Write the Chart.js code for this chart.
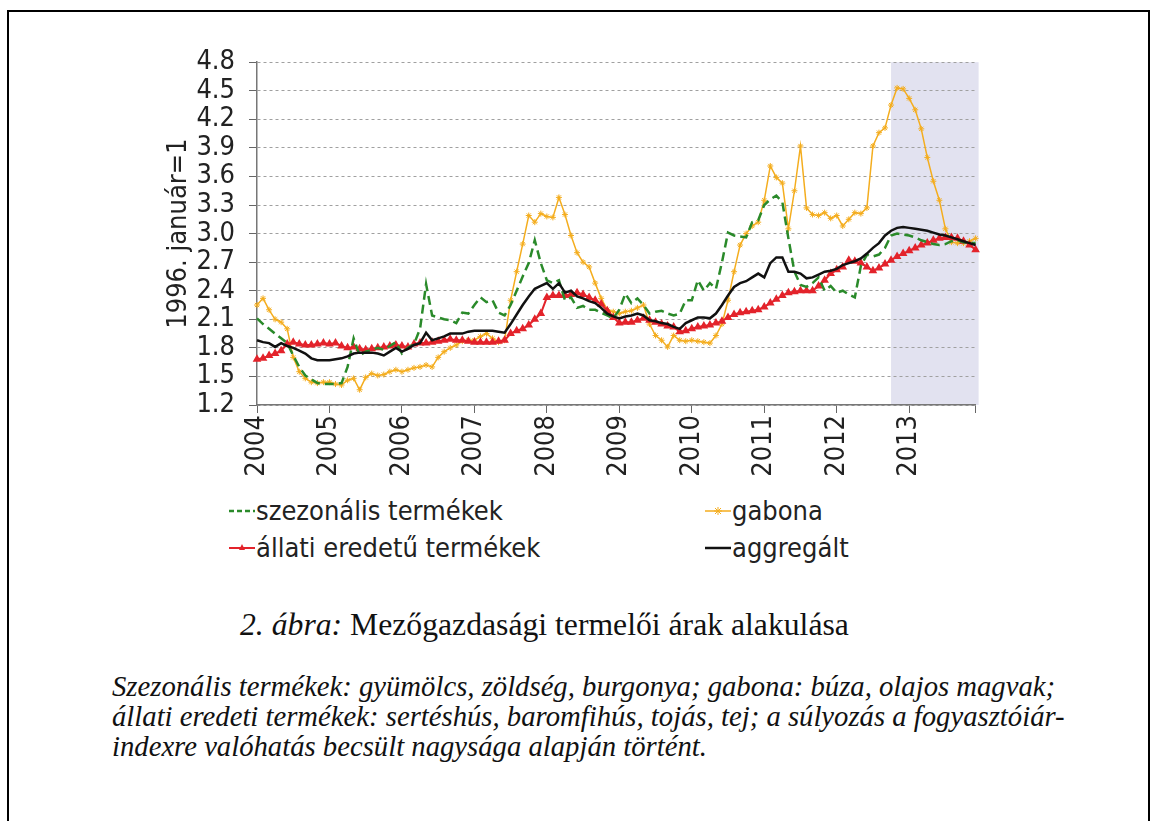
<!DOCTYPE html>
<html lang="hu">
<head>
<meta charset="UTF-8">
<title>Mezőgazdasági termelői árak alakulása</title>
<script src="https://cdn.jsdelivr.net/npm/chart.js"></script>
<style>
  body { margin: 0; background: #fff; width: 1157px; height: 821px; overflow: hidden; position: relative; }
  .frame { position: absolute; left: 7px; top: 10px; width: 1139px; height: 900px; border: 2px solid #000; }
  .chart-box { position: absolute; left: 150px; top: 32px; }
  .legend {
    position: absolute; left: 229px; top: 495px;
    display: grid; grid-template-columns: 476px auto; row-gap: 6px;
    font-family: "DejaVu Sans Condensed", sans-serif; font-size: 27px; color: #222;
  }
  .legend-item { display: flex; align-items: center; white-space: nowrap; }
  .legend-item svg { margin-right: 1px; }
  .caption { position: absolute; left: 240px; top: 607px; font-family: "Liberation Serif", serif; font-size: 31.7px; color: #111; white-space: nowrap; }
  .note {
    position: absolute; left: 112px; top: 671px; white-space: nowrap;
    font-family: "Liberation Serif", serif; font-style: italic; font-size: 28.7px; line-height: 30px; color: #111;
  }
</style>
</head>
<body>
  <div class="frame"></div>
  <div class="chart-box"><canvas id="chart" width="860" height="458"></canvas></div>
  <div class="legend" id="legend"></div>
  <div class="caption"><i>2. ábra:</i> Mezőgazdasági termelői árak alakulása</div>
  <div class="note">Szezonális termékek: gyümölcs, zöldség, burgonya; gabona: búza, olajos magvak;<br>állati eredeti termékek: sertéshús, baromfihús, tojás, tej; a súlyozás a fogyasztóiár-<br>indexre valóhatás becsült nagysága alapján történt.</div>

<script>
  // years on the axis, one label per month
  const years = ['2004', '2005', '2006', '2007', '2008', '2009', '2010', '2011', '2012', '2013'];
  const monthLabels = [];
  years.forEach(y => {
    for (let m = 1; m <= 12; m++) monthLabels.push(y + '-' + String(m).padStart(2, '0'));
  });
  const shadeFrom = '2012-10';

  // 1996. január = 1
  const szezonalis = [
    2.11, 2.05, 2.00, 1.95, 1.90, 1.85, 1.72, 1.60, 1.51, 1.47, 1.43, 1.42,
    1.42, 1.42, 1.43, 1.60, 1.90, 1.72, 1.76, 1.78, 1.80, 1.78, 1.82, 1.86,
    1.74, 1.80, 1.84, 2.00, 2.47, 2.14, 2.12, 2.10, 2.09, 2.06, 2.17, 2.16,
    2.25, 2.33, 2.28, 2.30, 2.17, 2.14, 2.25, 2.40, 2.55, 2.69, 2.93, 2.69,
    2.51, 2.48, 2.51, 2.30, 2.33, 2.22, 2.24, 2.20, 2.20, 2.17, 2.14, 2.11,
    2.20, 2.37, 2.27, 2.32, 2.25, 2.16, 2.18, 2.19, 2.16, 2.14, 2.16, 2.30,
    2.30, 2.51, 2.40, 2.48, 2.42, 2.70, 3.01, 2.98, 2.97, 2.96, 3.12, 3.14,
    3.30, 3.36, 3.40, 3.33, 2.95, 2.60, 2.46, 2.44, 2.48, 2.54, 2.40, 2.45,
    2.38, 2.40, 2.36, 2.33, 2.66, 2.78, 2.76, 2.78, 2.85, 2.98, 3.00, 2.99,
    2.98, 2.96, 2.93, 2.91, 2.89, 2.88, 2.89, 2.92, 2.93, 2.91, 2.90, 2.90
  ];
  const gabona = [
    2.25, 2.32, 2.20, 2.10, 2.07, 2.00, 1.70, 1.55, 1.48, 1.44, 1.43, 1.44,
    1.44, 1.42, 1.41, 1.46, 1.48, 1.36, 1.49, 1.53, 1.51, 1.52, 1.55, 1.57,
    1.55, 1.57, 1.59, 1.60, 1.62, 1.60, 1.70, 1.76, 1.80, 1.83, 1.87, 1.88,
    1.88, 1.92, 1.95, 1.90, 1.86, 1.88, 2.30, 2.60, 2.89, 3.19, 3.12, 3.21,
    3.18, 3.17, 3.38, 3.20, 2.98, 2.80, 2.70, 2.65, 2.48, 2.32, 2.20, 2.18,
    2.16, 2.18, 2.19, 2.22, 2.25, 2.05, 1.93, 1.88, 1.81, 1.93, 1.88, 1.87,
    1.88, 1.87, 1.86, 1.85, 1.93, 2.05, 2.30, 2.60, 2.88, 3.00, 3.08, 3.12,
    3.35, 3.71, 3.59, 3.53, 3.05, 3.45, 3.92, 3.27, 3.20, 3.19, 3.22, 3.16,
    3.19, 3.08, 3.15, 3.22, 3.21, 3.27, 3.92, 4.06, 4.11, 4.35, 4.53, 4.52,
    4.42, 4.30, 4.10, 3.80, 3.55, 3.35, 3.05, 2.91, 2.90, 2.90, 2.92, 2.95
  ];
  const allati = [
    1.68, 1.69, 1.72, 1.74, 1.77, 1.84, 1.86, 1.84, 1.83, 1.83, 1.84, 1.85,
    1.84, 1.85, 1.82, 1.80, 1.81, 1.79, 1.78, 1.79, 1.80, 1.81, 1.82, 1.83,
    1.82, 1.81, 1.84, 1.85, 1.85, 1.86, 1.87, 1.88, 1.89, 1.88, 1.88, 1.87,
    1.86, 1.86, 1.86, 1.86, 1.87, 1.88, 1.95, 1.98, 2.00, 2.04, 2.10, 2.16,
    2.33, 2.35, 2.35, 2.35, 2.36, 2.38, 2.36, 2.33, 2.30, 2.26, 2.19, 2.12,
    2.06, 2.07, 2.07, 2.09, 2.11, 2.09, 2.07, 2.05, 2.03, 2.02, 1.97, 1.98,
    2.00, 2.02, 2.03, 2.04, 2.06, 2.08, 2.12, 2.15, 2.17, 2.18, 2.19, 2.20,
    2.23, 2.27, 2.31, 2.35, 2.38, 2.39, 2.40, 2.40, 2.40, 2.45, 2.51, 2.58,
    2.62, 2.65, 2.72, 2.71, 2.69, 2.65, 2.61, 2.64, 2.68, 2.72, 2.76, 2.79,
    2.82, 2.85, 2.88, 2.90, 2.93, 2.95, 2.96, 2.96, 2.95, 2.92, 2.88, 2.83
  ];
  const aggregalt = [
    1.88, 1.86, 1.85, 1.81, 1.85, 1.82, 1.80, 1.77, 1.74, 1.69, 1.67, 1.67,
    1.67, 1.68, 1.69, 1.71, 1.74, 1.75, 1.75, 1.75, 1.74, 1.72, 1.76, 1.80,
    1.76, 1.79, 1.83, 1.85, 1.96, 1.88, 1.90, 1.92, 1.95, 1.95, 1.95, 1.97,
    1.98, 1.98, 1.98, 1.98, 1.97, 1.96, 2.05, 2.15, 2.25, 2.34, 2.42, 2.45,
    2.48, 2.42, 2.48, 2.38, 2.40, 2.34, 2.32, 2.29, 2.27, 2.22, 2.16, 2.13,
    2.11, 2.13, 2.14, 2.16, 2.14, 2.09, 2.08, 2.06, 2.05, 2.02, 2.00, 2.06,
    2.09, 2.12, 2.12, 2.11, 2.16, 2.25, 2.35, 2.44, 2.48, 2.50, 2.54, 2.58,
    2.54, 2.69, 2.75, 2.75, 2.60, 2.60, 2.58, 2.53, 2.54, 2.57, 2.60, 2.61,
    2.63, 2.67, 2.69, 2.71, 2.74, 2.79, 2.85, 2.90, 2.98, 3.03, 3.06, 3.07,
    3.06, 3.05, 3.04, 3.03, 3.01, 2.99, 2.98, 2.96, 2.94, 2.92, 2.90, 2.88
  ];

  const green = '#2a8a2a', orange = '#f4ad1e', red = '#e3232b', black = '#111111';
  const tickFont = { family: 'DejaVu Sans Condensed', size: 27 };

  // grey band for the forecast period
  const shadePlugin = {
    id: 'shade',
    beforeDraw(chart) {
      const { ctx, chartArea, scales } = chart;
      const x0 = scales.x.getPixelForValue(monthLabels.indexOf(shadeFrom));
      ctx.save();
      ctx.fillStyle = '#e2e2f0';
      ctx.fillRect(x0, chartArea.top, chartArea.right + 3 - x0, chartArea.bottom - chartArea.top);
      ctx.restore();
    }
  };

  const isYearTick = i => i % 12 === 0 || i === monthLabels.length - 1;

  const chart = new Chart(document.getElementById('chart'), {
    type: 'line',
    data: {
      labels: monthLabels,
      datasets: [
        { label: 'szezonális termékek', data: szezonalis, borderColor: green, borderWidth: 2.5,
          borderDash: [9, 5], pointRadius: 0, order: 2 },
        { label: 'gabona', data: gabona, borderColor: orange, borderWidth: 1.5,
          pointStyle: 'star', pointRadius: 3, pointBorderWidth: 1, pointBorderColor: orange, order: 4 },
        { label: 'állati eredetű termékek', data: allati, borderColor: red, borderWidth: 2,
          pointStyle: 'triangle', pointRadius: 3, pointBackgroundColor: red, pointBorderColor: red, order: 3 },
        { label: 'aggregált', data: aggregalt, borderColor: black, borderWidth: 2.5, pointRadius: 0, order: 1 }
      ]
    },
    options: {
      responsive: false,
      animation: false,
      layout: { padding: { top: 13, right: 13, left: 0, bottom: 0 } },
      plugins: { legend: { display: false }, tooltip: { enabled: false } },
      elements: { line: { tension: 0 } },
      scales: {
        x: {
          type: 'category',
          offset: false,
          afterFit: s => { s.height = 85; },
          grid: {
            drawOnChartArea: false, drawTicks: true, tickLength: 8,
            tickColor: c => isYearTick(c.index) ? '#666' : 'rgba(0,0,0,0)'
          },
          border: { color: '#777', width: 1.5 },
          ticks: {
            autoSkip: false, minRotation: 90, maxRotation: 90, padding: 2,
            font: tickFont, color: '#222',
            callback: (v, i) => i % 12 === 0 ? years[i / 12] : ''
          }
        },
        y: {
          min: 1.2, max: 4.8,
          afterFit: s => { s.width = 107; },
          grid: { color: '#a0a0a0', lineWidth: 1, tickColor: '#666', tickLength: 8, tickBorderDash: [] },
          border: { color: '#777', width: 1.5, dash: [3, 3] },
          ticks: { stepSize: 0.3, autoSkip: false, padding: 14, font: tickFont, color: '#222',
                   callback: v => Number(v).toFixed(1) },
          title: { display: true, text: '1996. január=1', font: tickFont, color: '#222', padding: { top: 13, bottom: 0 } }
        }
      }
    },
    plugins: [shadePlugin]
  });

  // legend in two columns, as in the printed figure
  const legend = document.getElementById('legend');
  chart.data.datasets.forEach(ds => {
    const item = document.createElement('div');
    item.className = 'legend-item';
    let marker = '';
    if (ds.pointStyle === 'triangle') marker = `<path d="M13 4 L16 10 L10 10 Z" fill="${ds.borderColor}"/>`;
    if (ds.pointStyle === 'star') marker = `<path d="M13 4 V12 M9 8 H17 M10 5 L16 11 M16 5 L10 11" stroke="${ds.borderColor}" stroke-width="1"/>`;
    const dash = ds.borderDash ? `stroke-dasharray="5 3"` : '';
    item.innerHTML = `<svg width="26" height="16"><line x1="0" y1="8" x2="26" y2="8" stroke="${ds.borderColor}" stroke-width="${ds.borderWidth}" ${dash}/>${marker}</svg><span>${ds.label}</span>`;
    legend.appendChild(item);
  });
</script>
</body>
</html>
